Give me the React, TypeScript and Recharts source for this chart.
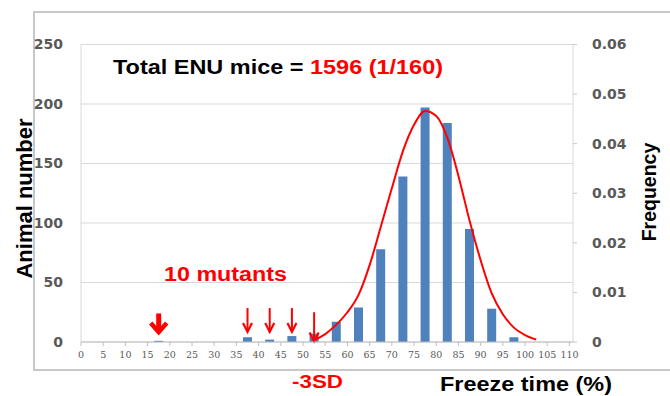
import React from 'react';
import {
  ComposedChart,
  Bar,
  Line,
  XAxis,
  YAxis,
  CartesianGrid,
  ReferenceLine,
} from 'recharts';

// Histogram bins (bin centre, % freeze time) and animal counts per bin
const binCenters = [17.5, 37.5, 42.5, 47.5, 52.5, 57.5, 62.5, 67.5, 72.5, 77.5, 82.5, 87.5, 92.5, 97.5];
const animalCounts = [1, 4, 2, 5, 7, 17, 29, 78, 139, 197, 184, 95, 28, 4];

// Fitted frequency curve (right axis)
const curveX = [52.5, 55, 57.5, 60, 62.5, 65, 67.5, 70, 72.5, 75, 77.5, 80, 82.5, 85, 87.5, 90, 92.5, 95, 97.5, 100, 102.5];
const curveFreq = [
  0.0004, 0.0016, 0.0035, 0.006, 0.0095, 0.0155, 0.0232, 0.031, 0.0385, 0.0438, 0.0466,
  0.0456, 0.0412, 0.0335, 0.0245, 0.0165, 0.0098, 0.0056, 0.0029, 0.0014, 0.0005,
];

// Axis ticks
const xTicks = [0, 5, 10, 15, 20, 25, 30, 35, 40, 45, 50, 55, 60, 65, 70, 75, 80, 85, 90, 95, 100, 105, 110];
const countTicks = [0, 50, 100, 150, 200, 250];
const freqTicks = [0, 0.01, 0.02, 0.03, 0.04, 0.05, 0.06];

// Mutant markers: x position and arrow start / tip in animal-number units
const bigArrow = { x: 17.5, from: 24, to: 7.5 };
const smallArrows = [37.5, 42.5, 47.5];
const smallArrowFrom = 28.5;
const smallArrowTo = 8.5;
const sdArrow = { x: 52.5, from: 25, to: 0.5 };

type Row = { x: number; count?: number; freq?: number };

const rowMap = new Map<number, Row>();
binCenters.forEach((x, i) => {
  rowMap.set(x, { ...(rowMap.get(x) || { x }), count: animalCounts[i] });
});
curveX.forEach((x, i) => {
  rowMap.set(x, { ...(rowMap.get(x) || { x }), freq: curveFreq[i] });
});
const rows: Row[] = Array.from(rowMap.values()).sort((a, b) => a.x - b.x);

const RED = '#ff0000';
const SANS = '"Liberation Sans", Arial, sans-serif';

const BigArrowShape = (p: any) => {
  const { x1, y1, x2, y2 } = p;
  const head = 10;
  return (
    <g>
      <line x1={x1} y1={y1} x2={x2} y2={y2 - 4} stroke={RED} strokeWidth={5} />
      <polyline
        points={`${x2 - 8},${y2 - head} ${x2},${y2 - 1} ${x2 + 8},${y2 - head}`}
        fill="none"
        stroke={RED}
        strokeWidth={4.5}
        strokeLinejoin="miter"
      />
    </g>
  );
};

const ThinArrowShape = (p: any) => {
  const { x1, y1, x2, y2 } = p;
  return (
    <g>
      <line x1={x1} y1={y1} x2={x2} y2={y2} stroke={RED} strokeWidth={2} />
      <polyline
        points={`${x2 - 4.5},${y2 - 9} ${x2},${y2} ${x2 + 4.5},${y2 - 9}`}
        fill="none"
        stroke={RED}
        strokeWidth={2.2}
      />
    </g>
  );
};

export default function App() {
  return (
    <div style={{ position: 'absolute', left: 0, top: 0, width: 670, height: 396, background: '#fff', overflow: 'hidden' }}>
      <div
        style={{
          position: 'absolute',
          left: 33,
          top: 11,
          width: 700,
          height: 356,
          borderTop: '2px solid #c8c8c8',
          borderLeft: '2px solid #c8c8c8',
          borderBottom: '2px solid #c8c8c8',
        }}
      />
      <div style={{ position: 'absolute', left: 0, top: 0 }}>
        <ComposedChart width={670} height={396} data={rows} margin={{ top: 44.5, right: 37, bottom: 24, left: 21 }}>
          <CartesianGrid yAxisId="count" vertical={false} stroke="#d9d9d9" strokeWidth={1} />
          <XAxis
            dataKey="x"
            type="number"
            domain={[0, 110.8]}
            ticks={xTicks}
            interval={0}
            height={30}
            tickSize={4}
            tickMargin={5}
            axisLine={{ stroke: '#bfbfbf' }}
            tickLine={{ stroke: '#bfbfbf' }}
            tick={{ fontSize: 9.5, fill: '#595959', fontFamily: '"DejaVu Serif", serif' }}
          />
          <YAxis
            yAxisId="count"
            domain={[0, 250]}
            ticks={countTicks}
            interval={0}
            width={60}
            tickLine={false}
            tickSize={6}
            tickMargin={12}
            axisLine={{ stroke: '#d9d9d9' }}
            tick={{ fontSize: 14, fill: '#595959', fontWeight: 'bold', fontFamily: '"DejaVu Sans", sans-serif' }}
          />
          <YAxis
            yAxisId="freq"
            orientation="right"
            domain={[0, 0.06]}
            ticks={freqTicks}
            interval={0}
            width={60}
            tickSize={4}
            tickMargin={15}
            axisLine={{ stroke: '#d9d9d9' }}
            tickLine={{ stroke: '#c8c8c8' }}
            tickFormatter={(v: number) => (v === 0 ? '0' : v.toFixed(2))}
            tick={{ fontSize: 14, fill: '#595959', fontWeight: 'bold', fontFamily: '"DejaVu Sans", sans-serif', textAnchor: 'start' }}
          />
          <Bar yAxisId="count" dataKey="count" fill="#4f81bd" barSize={9} isAnimationActive={false} />
          <Line
            yAxisId="freq"
            dataKey="freq"
            type="monotone"
            stroke={RED}
            strokeWidth={2}
            dot={false}
            connectNulls
            isAnimationActive={false}
          />
          <ReferenceLine
            yAxisId="count"
            segment={[
              { x: bigArrow.x, y: bigArrow.from },
              { x: bigArrow.x, y: bigArrow.to },
            ]}
            shape={BigArrowShape}
          />
          {smallArrows.map((x) => (
            <ReferenceLine
              key={x}
              yAxisId="count"
              segment={[
                { x, y: smallArrowFrom },
                { x, y: smallArrowTo },
              ]}
              shape={ThinArrowShape}
            />
          ))}
          <ReferenceLine
            yAxisId="count"
            segment={[
              { x: sdArrow.x, y: sdArrow.from },
              { x: sdArrow.x, y: sdArrow.to },
            ]}
            shape={ThinArrowShape}
          />
        </ComposedChart>
      </div>
      <svg
        width={670}
        height={396}
        style={{ position: 'absolute', left: 0, top: 0, pointerEvents: 'none' }}
        fontFamily={SANS}
        fontWeight="bold"
      >
        <text x={113} y={74} fontSize={21} fill="#000" textLength={330} lengthAdjust="spacingAndGlyphs">
          {'Total ENU mice = '}
          <tspan fill={RED}>1596 (1/160)</tspan>
        </text>
        <text x={164} y={281} fontSize={19.5} fill={RED} textLength={123} lengthAdjust="spacingAndGlyphs">
          10 mutants
        </text>
        <text x={292} y={388} fontSize={19} fill={RED} textLength={51} lengthAdjust="spacingAndGlyphs">
          -3SD
        </text>
        <text x={440} y={391} fontSize={19.5} fill="#000" textLength={172} lengthAdjust="spacingAndGlyphs">
          Freeze time (%)
        </text>
        <text
          x={0}
          y={0}
          fontSize={22}
          fill="#000"
          textAnchor="middle"
          transform="translate(32,198.5) rotate(-90)"
        >
          Animal number
        </text>
        <text
          x={0}
          y={0}
          fontSize={19.5}
          fill="#000"
          textAnchor="middle"
          transform="translate(656,192) rotate(-90)"
        >
          Frequency
        </text>
      </svg>
    </div>
  );
}
